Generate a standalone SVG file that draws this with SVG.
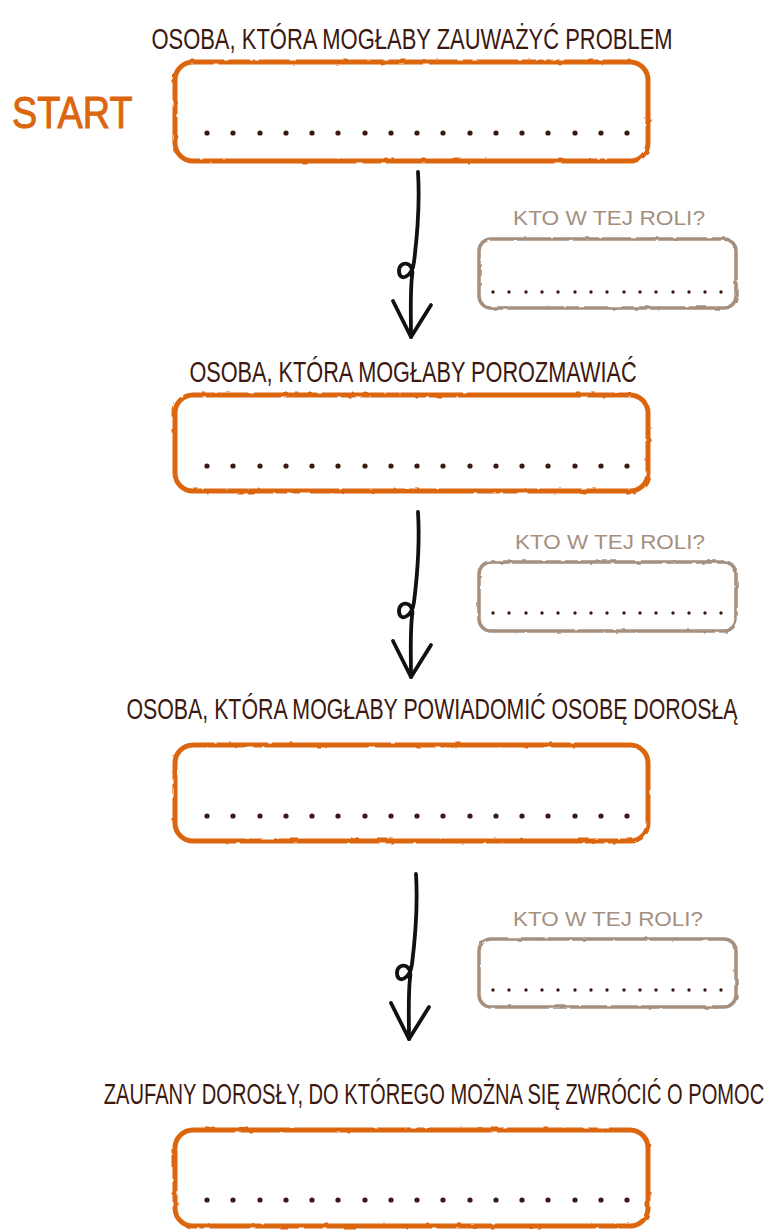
<svg xmlns="http://www.w3.org/2000/svg" width="773" height="1230" viewBox="0 0 773 1230">
  <style>
    .head { font-family: "Liberation Sans", "DejaVu Sans", sans-serif; font-size: 30px; fill: #3b1810; text-anchor: middle; }
    .ask { font-family: "Liberation Sans", "DejaVu Sans", sans-serif; font-size: 21px; fill: #a58f7f; text-anchor: middle; }
    .start { font-family: "Liberation Sans", "DejaVu Sans", sans-serif; font-size: 45px; fill: #dc6610; stroke: #dc6610; stroke-width: 1; }
    .main { fill: none; stroke: #dc6610; stroke-width: 5; filter: url(#rough); }
    .side { fill: none; stroke: #a58f7f; stroke-width: 3.5; filter: url(#rough); }
    .dot { fill: #3b1810; }
    .arrow { fill: none; stroke: #111; stroke-width: 3.8; stroke-linecap: round; stroke-linejoin: round; }
  </style>
  <defs>
    <filter id="rough" x="-5%" y="-10%" width="110%" height="120%">
      <feTurbulence type="fractalNoise" baseFrequency="0.09" numOctaves="2" seed="3"/>
      <feDisplacementMap in="SourceGraphic" scale="2.5"/>
    </filter>
    <!-- dotted answer line for the large boxes -->
    <g id="dotsMain">
      <circle class="dot" cx="207" cy="0" r="2.6"/><circle class="dot" cx="233" cy="0" r="2.6"/>
      <circle class="dot" cx="260" cy="0" r="2.6"/><circle class="dot" cx="286" cy="0" r="2.6"/>
      <circle class="dot" cx="312" cy="0" r="2.6"/><circle class="dot" cx="338" cy="0" r="2.6"/>
      <circle class="dot" cx="365" cy="0" r="2.6"/><circle class="dot" cx="391" cy="0" r="2.6"/>
      <circle class="dot" cx="417" cy="0" r="2.6"/><circle class="dot" cx="443" cy="0" r="2.6"/>
      <circle class="dot" cx="470" cy="0" r="2.6"/><circle class="dot" cx="496" cy="0" r="2.6"/>
      <circle class="dot" cx="522" cy="0" r="2.6"/><circle class="dot" cx="548" cy="0" r="2.6"/>
      <circle class="dot" cx="575" cy="0" r="2.6"/><circle class="dot" cx="601" cy="0" r="2.6"/>
      <circle class="dot" cx="627" cy="0" r="2.6"/>
    </g>
    <!-- dotted answer line for the side boxes -->
    <g id="dotsSide">
      <circle class="dot" cx="493" cy="0" r="1.7"/><circle class="dot" cx="509" cy="0" r="1.7"/>
      <circle class="dot" cx="526" cy="0" r="1.7"/><circle class="dot" cx="542" cy="0" r="1.7"/>
      <circle class="dot" cx="558" cy="0" r="1.7"/><circle class="dot" cx="575" cy="0" r="1.7"/>
      <circle class="dot" cx="591" cy="0" r="1.7"/><circle class="dot" cx="607" cy="0" r="1.7"/>
      <circle class="dot" cx="624" cy="0" r="1.7"/><circle class="dot" cx="640" cy="0" r="1.7"/>
      <circle class="dot" cx="656" cy="0" r="1.7"/><circle class="dot" cx="673" cy="0" r="1.7"/>
      <circle class="dot" cx="689" cy="0" r="1.7"/><circle class="dot" cx="705" cy="0" r="1.7"/>
      <circle class="dot" cx="721" cy="0" r="1.7"/>
    </g>
    <!-- looped hand-drawn arrow -->
    <g id="loopArrow">
      <path class="arrow" d="M418,172 C420,205 417,238 414,262 C412,278 399,282 399,271 C399,260 415,261 412,276 C410,295 411,315 411,337"/>
      <path class="arrow" d="M393,301 L411,337 L431,305"/>
    </g>
  </defs>

  <text class="start" transform="translate(12,128) scale(0.82,1)" textLength="147" lengthAdjust="spacingAndGlyphs">START</text>

  <g id="step1">
    <text class="head" transform="translate(412,49) scale(0.729,1)" textLength="715" lengthAdjust="spacingAndGlyphs">OSOBA, KTÓRA MOGŁABY ZAUWAŻYĆ PROBLEM</text>
    <rect class="main" x="175" y="62" width="473" height="99" rx="18"/>
    <use href="#dotsMain" y="133"/>
  </g>

  <g id="role1">
    <text class="ask" x="609" y="225" textLength="192" lengthAdjust="spacingAndGlyphs">KTO W TEJ ROLI?</text>
    <rect class="side" x="479" y="239" width="257" height="69" rx="12"/>
    <use href="#dotsSide" y="292"/>
  </g>

  <g id="step2">
    <text class="head" transform="translate(413,382) scale(0.719,1)" textLength="622" lengthAdjust="spacingAndGlyphs">OSOBA, KTÓRA MOGŁABY POROZMAWIAĆ</text>
    <rect class="main" x="175" y="395" width="473" height="96" rx="18"/>
    <use href="#dotsMain" y="466"/>
  </g>

  <g id="role2">
    <text class="ask" x="610" y="549" textLength="190" lengthAdjust="spacingAndGlyphs">KTO W TEJ ROLI?</text>
    <rect class="side" x="479" y="562" width="257" height="69" rx="12"/>
    <use href="#dotsSide" y="613"/>
  </g>

  <g id="step3">
    <text class="head" transform="translate(432,719) scale(0.709,1)" textLength="862" lengthAdjust="spacingAndGlyphs">OSOBA, KTÓRA MOGŁABY POWIADOMIĆ OSOBĘ DOROSŁĄ</text>
    <rect class="main" x="175" y="745" width="473" height="96" rx="18"/>
    <use href="#dotsMain" y="816"/>
  </g>

  <g id="role3">
    <text class="ask" x="608" y="926" textLength="190" lengthAdjust="spacingAndGlyphs">KTO W TEJ ROLI?</text>
    <rect class="side" x="479" y="939" width="257" height="68" rx="12"/>
    <use href="#dotsSide" y="990"/>
  </g>

  <g id="step4">
    <text class="head" transform="translate(434,1104) scale(0.665,1)" textLength="993" lengthAdjust="spacingAndGlyphs">ZAUFANY DOROSŁY, DO KTÓREGO MOŻNA SIĘ ZWRÓCIĆ O POMOC</text>
    <rect class="main" x="175" y="1130" width="473" height="96" rx="18"/>
    <use href="#dotsMain" y="1200"/>
  </g>

  <g id="connectors">
    <use href="#loopArrow"/>
    <use href="#loopArrow" transform="translate(0,340)"/>
    <use href="#loopArrow" transform="translate(-2,702)"/>
  </g>
</svg>
